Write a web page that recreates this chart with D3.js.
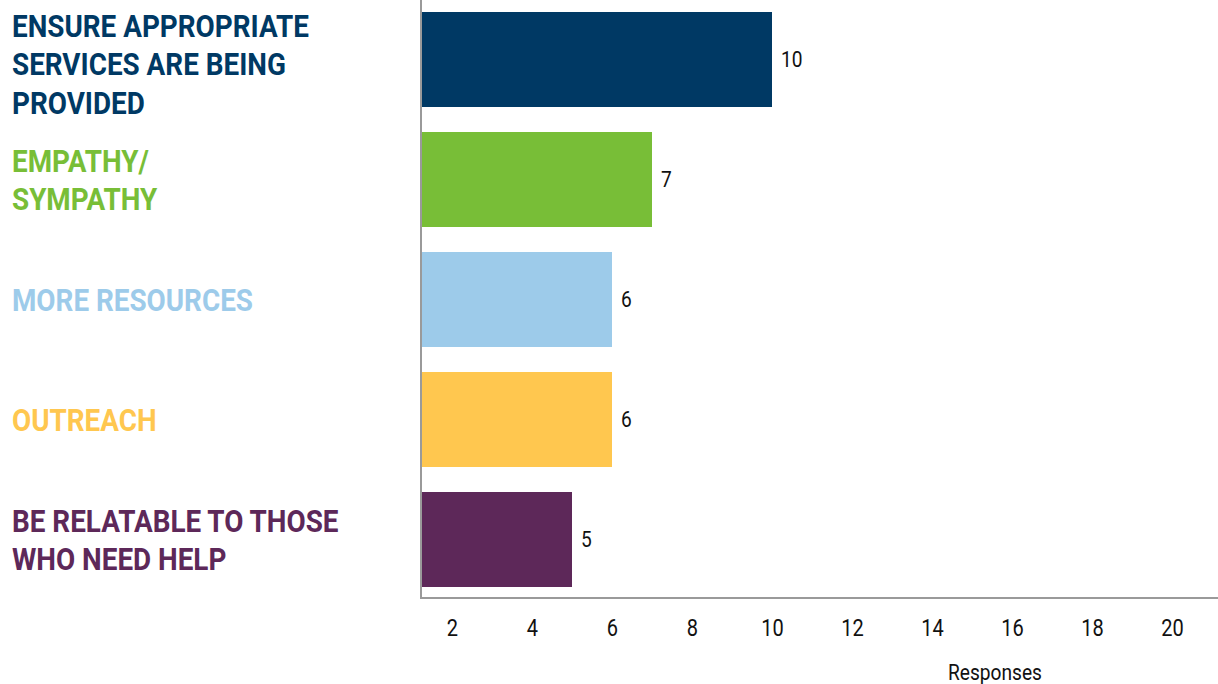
<!DOCTYPE html>
<html>
<head>
<meta charset="utf-8">
<script src="https://cdn.jsdelivr.net/npm/d3@7"></script>
<style>
  html, body { margin: 0; padding: 0; background: #fff; }
  svg { display: block; }
</style>
</head>
<body>
<svg id="chart" width="1218" height="684"></svg>
<script>
// Survey answers, one bar per category
const categories = [
  ["ENSURE APPROPRIATE", "SERVICES ARE BEING", "PROVIDED"],
  ["EMPATHY/", "SYMPATHY"],
  ["MORE RESOURCES"],
  ["OUTREACH"],
  ["BE RELATABLE TO THOSE", "WHO NEED HELP"]
];
const responses = [10, 7, 6, 6, 5];
const barColors = ["#003964", "#78be37", "#9dcbea", "#ffc74f", "#5d2859"];
const xTicks = [2, 4, 6, 8, 10, 12, 14, 16, 18, 20];
const xTitle = "Responses";

const W = 1218, H = 684;
const plotLeft = 421, plotRight = 1218, plotBottom = 598;
const condense = 0.87; // narrow the sans face to a condensed look

const svg = d3.select("#chart");

const x = d3.scaleLinear().domain([1.225, 21.15]).range([plotLeft, plotRight]);
const y = d3.scaleBand().domain(d3.range(categories.length))
  .range([0, 599]).paddingInner(25 / 120).paddingOuter(0.1);

// Bars
svg.append("g").selectAll("rect")
  .data(responses)
  .join("rect")
  .attr("x", x(x.domain()[0]))
  .attr("y", (d, i) => y(i))
  .attr("width", d => x(d) - x(x.domain()[0]))
  .attr("height", y.bandwidth())
  .attr("fill", (d, i) => barColors[i]);

// Value labels
svg.append("g").selectAll("text")
  .data(responses)
  .join("text")
  .attr("transform", (d, i) => `translate(${x(d) + 9},${y(i) + y.bandwidth() / 2}) scale(${condense},1)`)
  .attr("dy", "0.36em")
  .attr("font-family", "Roboto, sans-serif")
  .attr("font-size", 22)
  .attr("fill", "#111")
  .text(d => d);

// Category labels; the three-line label sits slightly low in its band
const lineH = 38.5;
const labels = svg.append("g").selectAll("text")
  .data(categories)
  .join("text")
  .attr("transform", (d, i) => {
    const shift = d.length > 2 ? 4 : 0;
    const cy = y(i) + y.bandwidth() / 2 - (d.length - 1) * lineH / 2 + shift;
    return `translate(12,${cy}) scale(${condense},1)`;
  })
  .attr("font-family", "Roboto, sans-serif")
  .attr("font-weight", 700)
  .attr("font-size", 32)
  .attr("fill", (d, i) => barColors[i]);
labels.selectAll("tspan")
  .data(d => d)
  .join("tspan")
  .attr("x", 0)
  .attr("y", (d, j) => j * lineH)
  .attr("dy", "0.36em")
  .text(d => d);

// X axis
const xAxis = d3.axisBottom(x).tickValues(xTicks).tickSize(0).tickPadding(0);
const gx = svg.append("g").attr("transform", `translate(0,${plotBottom})`).call(xAxis);
gx.select(".domain").remove();
gx.selectAll(".tick text")
  .attr("font-family", "Roboto, sans-serif")
  .attr("font-size", 23)
  .attr("fill", "#111")
  .attr("y", 0)
  .attr("dy", 0)
  .attr("transform", `translate(0,38) scale(${condense},1)`);

// Axis lines
svg.append("line")
  .attr("x1", plotLeft).attr("x2", plotRight)
  .attr("y1", plotBottom).attr("y2", plotBottom)
  .attr("stroke", "#9a9a9a").attr("stroke-width", 2);
svg.append("line")
  .attr("x1", plotLeft).attr("x2", plotLeft)
  .attr("y1", 0).attr("y2", plotBottom + 1)
  .attr("stroke", "#9a9a9a").attr("stroke-width", 2);

// Axis title
svg.append("text")
  .attr("transform", `translate(995,680) scale(${condense},1)`)
  .attr("text-anchor", "middle")
  .attr("font-family", "Roboto, sans-serif")
  .attr("font-size", 22)
  .attr("fill", "#111")
  .text(xTitle);
</script>
</body>
</html>
